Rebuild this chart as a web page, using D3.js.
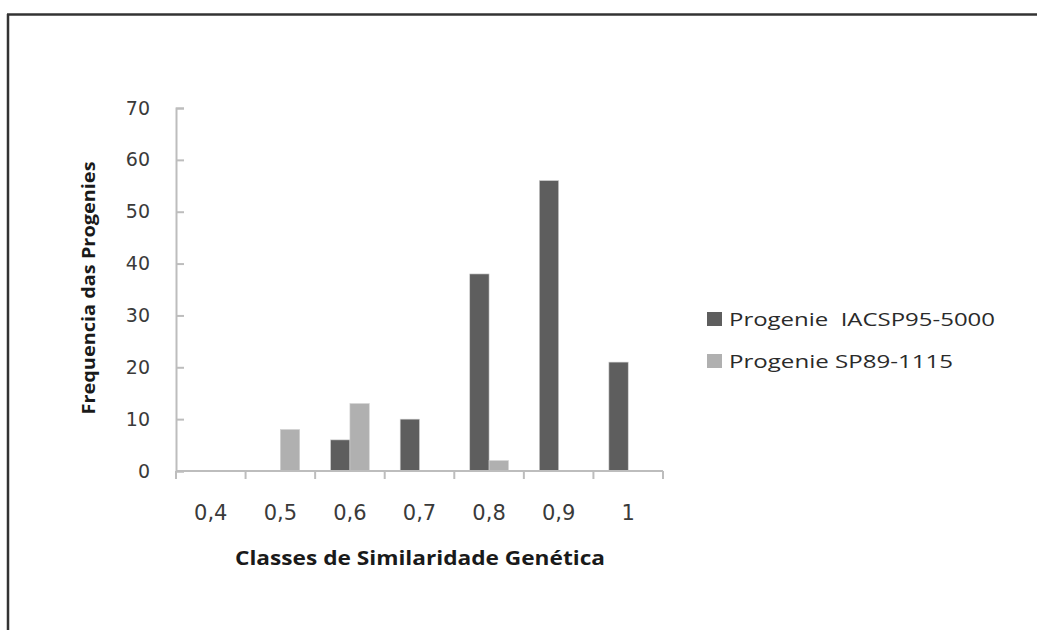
<!DOCTYPE html>
<html><head><meta charset="utf-8">
<script src="https://cdn.jsdelivr.net/npm/d3@7"></script>
<style>body{margin:0;background:#fff}svg{display:block}</style>
</head><body>
<svg id="c" width="1037" height="630"></svg>
<script>
const categories = ["0,4","0,5","0,6","0,7","0,8","0,9","1"];
const seriesNames = ["Progenie  IACSP95-5000","Progenie SP89-1115"];
const seriesA = [0,0,6,10,38,56,21];
const seriesB = [0,8,13,0,2,0,0];
const yTicks = [0,10,20,30,40,50,60,70];
const colors = ["#5e5e5e","#b0b0b0"];

const svg = d3.select("#c");
// outer frame
svg.append("line").attr("x1",7).attr("x2",1037).attr("y1",14.5).attr("y2",14.5).attr("stroke","#333").attr("stroke-width",2.5);
svg.append("line").attr("x1",8).attr("x2",8).attr("y1",14).attr("y2",630).attr("stroke","#333").attr("stroke-width",2.5);

const x = d3.scaleBand().domain(categories).range([176,663]).paddingInner(0).paddingOuter(0);
const y = d3.scaleLinear().domain([0,70]).range([471,108]);
const inner = d3.scaleBand().domain([0,1]).range([0,x.bandwidth()]).paddingInner(0).paddingOuter(0.8);

// y axis
const ya = svg.append("g").attr("transform","translate(176,0)")
  .call(d3.axisLeft(y).tickValues(yTicks).tickSize(-8).tickPadding(26).tickFormat(d3.format("d")));
ya.select(".domain").attr("stroke","#bdbdbd").attr("stroke-width",2);
ya.selectAll(".tick line").attr("stroke","#bdbdbd").attr("stroke-width",2);
ya.selectAll(".tick text").attr("font-family","DejaVu Sans").attr("font-size",19).attr("fill","#3a3a3a");

// bars
const data = categories.map((c,i)=>({c, v:[seriesA[i],seriesB[i]]}));
const g = svg.append("g");
data.forEach(d=>{
  g.selectAll(null).data(d.v.map((v,k)=>({v,k}))).enter().append("rect")
    .attr("x",e=>x(d.c)+inner(e.k))
    .attr("width",inner.bandwidth())
    .attr("y",e=>y(e.v))
    .attr("height",e=>y(0)-y(e.v))
    .attr("fill",e=>colors[e.k])
    .attr("stroke",e=>e.v>0?"#d0d0d0":"none").attr("stroke-width",0.6);
});

// x axis
const xa = svg.append("g").attr("transform","translate(0,471)")
  .call(d3.axisBottom(x).tickSize(0).tickPadding(34));
xa.select(".domain").remove();
xa.selectAll(".tick text").attr("font-family","DejaVu Sans").attr("font-size",21).attr("fill","#3a3a3a");
svg.append("line").attr("x1",176).attr("x2",663).attr("y1",471).attr("y2",471).attr("stroke","#bdbdbd").attr("stroke-width",2);
const bounds = categories.map(c=>x(c)).concat([x.range()[1]]);
svg.append("g").selectAll("line").data(bounds).enter().append("line")
  .attr("x1",d=>d).attr("x2",d=>d).attr("y1",471).attr("y2",479)
  .attr("stroke","#bdbdbd").attr("stroke-width",2);

// axis titles
svg.append("text").attr("x",420).attr("y",565).attr("text-anchor","middle")
  .attr("font-family","Open Sans").attr("font-weight","bold").attr("font-size",19).attr("fill","#1a1a1a")
  .attr("textLength",370).attr("lengthAdjust","spacingAndGlyphs")
  .text("Classes de Similaridade Genética");
svg.append("text").attr("transform","translate(95,288) rotate(-90)").attr("text-anchor","middle")
  .attr("font-family","Open Sans").attr("font-weight","bold").attr("font-size",17).attr("fill","#1a1a1a")
  .attr("textLength",253).attr("lengthAdjust","spacingAndGlyphs")
  .text("Frequencia das Progenies");

// legend
const lg = svg.append("g");
const ly = [319,361], lw = [266,224];
seriesNames.forEach((n,i)=>{
  lg.append("rect").attr("x",707).attr("y",ly[i]-7).attr("width",15).attr("height",14).attr("fill",colors[i]);
  lg.append("text").attr("x",729).attr("y",ly[i]+7).attr("font-family","Open Sans").attr("font-size",19).attr("fill","#2a2a2a")
    .attr("textLength",lw[i]).attr("lengthAdjust","spacingAndGlyphs").attr("xml:space","preserve").style("white-space","pre").text(n);
});
</script>
</body></html>
